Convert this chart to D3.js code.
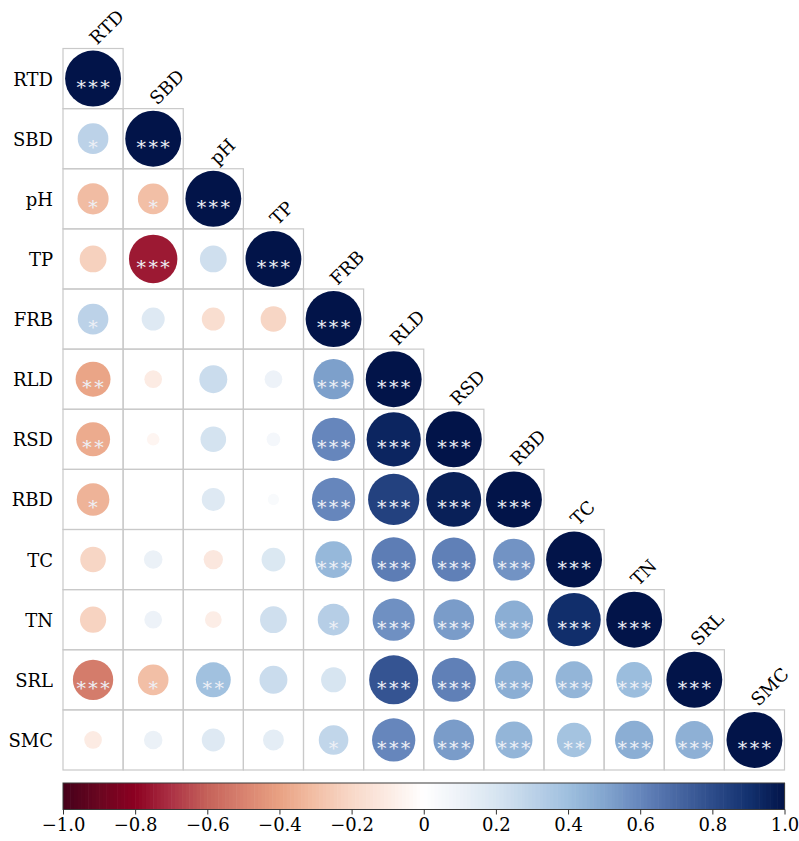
<!DOCTYPE html>
<html>
<head>
<meta charset="utf-8">
<script src="https://cdn.jsdelivr.net/npm/d3@7"></script>
<style>
  html, body { margin: 0; padding: 0; background: #ffffff; }
  svg { display: block; }
</style>
</head>
<body>
<svg id="chart" width="799" height="841"></svg>
<script>
// Variables shown on both axes
const variables = ["RTD", "SBD", "pH", "TP", "FRB", "RLD", "RSD", "RBD", "TC", "TN", "SRL", "SMC"];

// Lower-triangle correlation coefficients, one row per variable
const corrRows = [
  [1],
  [0.30, 1],
  [-0.31, -0.30, 1],
  [-0.23, -0.75, 0.23, 1],
  [0.30, 0.17, -0.17, -0.21, 1],
  [-0.39, -0.10, 0.25, 0.10, 0.52, 1],
  [-0.37, -0.05, 0.21, 0.06, 0.60, 0.94, 1],
  [-0.34, 0.00, 0.17, 0.04, 0.60, 0.84, 0.96, 1],
  [-0.21, 0.11, -0.12, 0.18, 0.43, 0.63, 0.62, 0.56, 1],
  [-0.22, 0.10, -0.09, 0.23, 0.32, 0.57, 0.53, 0.47, 0.91, 1],
  [-0.52, -0.30, 0.39, 0.25, 0.20, 0.77, 0.62, 0.47, 0.44, 0.41, 1],
  [-0.10, 0.11, 0.17, 0.14, 0.28, 0.60, 0.53, 0.44, 0.38, 0.47, 0.46, 1]
];

// Significance marks for the same cells
const starRows = [
  ["***"],
  ["*", "***"],
  ["*", "*", "***"],
  ["", "***", "", "***"],
  ["*", "", "", "", "***"],
  ["**", "", "", "", "***", "***"],
  ["**", "", "", "", "***", "***", "***"],
  ["*", "", "", "", "***", "***", "***", "***"],
  ["", "", "", "", "***", "***", "***", "***", "***"],
  ["", "", "", "", "*", "***", "***", "***", "***", "***"],
  ["***", "*", "**", "", "", "***", "***", "***", "***", "***", "***"],
  ["", "", "", "", "*", "***", "***", "***", "**", "***", "***", "***"]
];

// Colour bar tick values
const legendTicks = [-1, -0.8, -0.6, -0.4, -0.2, 0, 0.2, 0.4, 0.6, 0.8, 1];

// Diverging palette, dark red through white to dark navy
const paletteStops = [-1, -0.9, -0.8, -0.7, -0.6, -0.5, -0.4, -0.3, -0.2, -0.1, 0,
                      0.1, 0.2, 0.3, 0.4, 0.5, 0.6, 0.7, 0.8, 0.9, 1];
const paletteColors = ["#45001a", "#6a0620", "#8c0021", "#ac3245", "#c5625a", "#d8826f",
                       "#e9a283", "#f2bfa6", "#f8d8c8", "#fcebe3", "#ffffff",
                       "#edf2f8", "#d7e5f1", "#bcd2e8", "#9ebfde", "#83a6cf",
                       "#6686bc", "#4968a3", "#2d4c8a", "#13316f", "#021449"];

const serif = "DejaVu Serif";
const svg = d3.select("#chart");

const gridLeft = 63, gridTop = 48.5, gridSize = 721.5;

const x = d3.scaleBand().domain(variables).range([gridLeft, gridLeft + gridSize]);
const y = d3.scaleBand().domain(variables).range([gridTop, gridTop + gridSize]);
const color = d3.scaleLinear().domain(paletteStops).range(paletteColors).interpolate(d3.interpolateRgb);
// circle area proportional to |r|
const radius = d3.scaleSqrt().domain([0, 1]).range([0, x.bandwidth() * 0.465]);

const cells = [];
corrRows.forEach((row, i) => {
  row.forEach((r, j) => {
    cells.push({ row: variables[i], col: variables[j], r: r, stars: starRows[i][j] });
  });
});

// cell borders
svg.append("g")
  .selectAll("rect")
  .data(cells)
  .join("rect")
  .attr("x", d => x(d.col))
  .attr("y", d => y(d.row))
  .attr("width", x.bandwidth())
  .attr("height", y.bandwidth())
  .attr("fill", "none")
  .attr("stroke", "#c9c9c9")
  .attr("stroke-width", 1.2);

// circles
svg.append("g")
  .selectAll("circle")
  .data(cells)
  .join("circle")
  .attr("cx", d => x(d.col) + x.bandwidth() / 2)
  .attr("cy", d => y(d.row) + y.bandwidth() / 2)
  .attr("r", d => radius(Math.abs(d.r)))
  .attr("fill", d => color(d.r));

// significance stars
svg.append("g")
  .selectAll("text")
  .data(cells.filter(d => d.stars))
  .join("text")
  .attr("x", d => x(d.col) + x.bandwidth() / 2 + 1.2)
  .attr("y", d => y(d.row) + y.bandwidth() / 2 + 15)
  .attr("text-anchor", "middle")
  .attr("font-family", serif)
  .attr("font-size", 19)
  .attr("letter-spacing", "2.4px")
  .attr("fill", "#eef0f6")
  .text(d => d.stars);

// row labels
svg.append("g")
  .selectAll("text")
  .data(variables)
  .join("text")
  .attr("x", gridLeft - 10)
  .attr("y", d => y(d) + y.bandwidth() / 2 + 7)
  .attr("text-anchor", "end")
  .attr("font-family", serif)
  .attr("font-size", 18)
  .attr("fill", "#000")
  .text(d => d);

// column labels, rotated above the diagonal cells
svg.append("g")
  .selectAll("text")
  .data(variables)
  .join("text")
  .attr("transform", d => `translate(${x(d) + x.bandwidth() / 2 + 4},${y(d) - 3}) rotate(-45)`)
  .attr("text-anchor", "start")
  .attr("font-family", serif)
  .attr("font-size", 18)
  .attr("fill", "#000")
  .text(d => d);

// colour bar
const barTop = 783, barH = 26.5;
const lx = d3.scaleLinear().domain([-1, 1]).range([gridLeft, gridLeft + gridSize]);
const steps = d3.range(200).map(k => -1 + (k + 0.5) * 2 / 200);
svg.append("g")
  .selectAll("rect")
  .data(steps)
  .join("rect")
  .attr("x", d => lx(d - 0.005))
  .attr("y", barTop)
  .attr("width", lx(0.01) - lx(0) + 0.6)
  .attr("height", barH)
  .attr("fill", d => color(d));

svg.append("rect")
  .attr("x", gridLeft)
  .attr("y", barTop)
  .attr("width", gridSize)
  .attr("height", barH)
  .attr("fill", "none")
  .attr("stroke", "#3a3a3a")
  .attr("stroke-width", 1);

const axis = d3.axisBottom(lx)
  .tickValues(legendTicks)
  .tickSize(5)
  .tickSizeOuter(0)
  .tickFormat(d => d === 0 ? "0" : d3.format(".1f")(d).replace("-", "\u2212"));

const ag = svg.append("g")
  .attr("transform", `translate(0,${barTop + barH})`)
  .call(axis)
  .attr("font-family", serif)
  .attr("font-size", 18);
ag.select(".domain").remove();
ag.selectAll(".tick line").attr("stroke", "#333");
ag.selectAll(".tick text")
  .attr("fill", "#000")
  .attr("dy", "0.85em")
  .attr("y", 6);
</script>
</body>
</html>
